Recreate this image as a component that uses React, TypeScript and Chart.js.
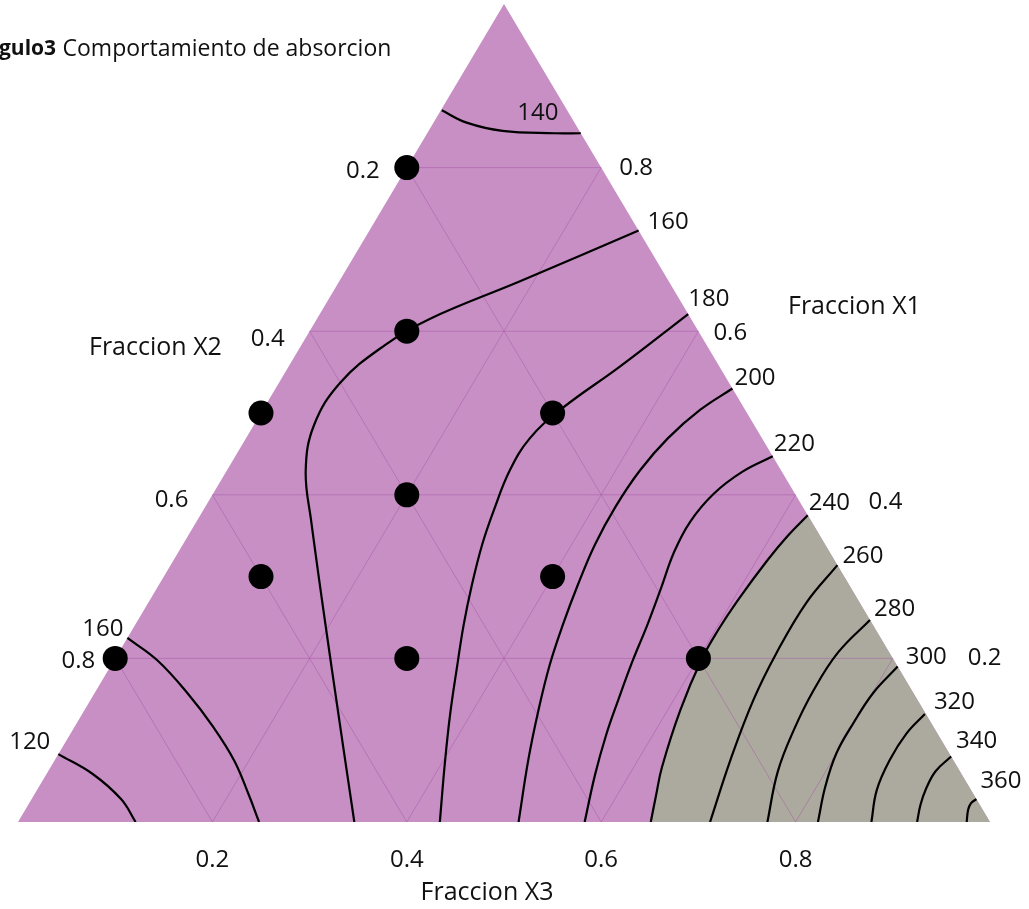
import React, { useEffect, useRef } from 'react';
import { Chart, registerables } from 'chart.js';

Chart.register(...registerables);

// Compositions are stored as [X3, X1]; X2 = 1 - X1 - X3.
type Comp = [number, number];

// Experimental design points
const designPoints: Comp[] = [
  [0.0, 0.8], [0.1, 0.6], [0.0, 0.5], [0.3, 0.5], [0.2, 0.4],
  [0.1, 0.3], [0.4, 0.3], [0.0, 0.2], [0.3, 0.2], [0.6, 0.2],
];

// Iso-response curves of the absorption model
const contour120: Comp[] = [[0.0, 0.083], [0.047, 0.059], [0.092, 0.028], [0.121, 0.0]];
const contour140: Comp[] = [[0.001, 0.87], [0.034, 0.855], [0.076, 0.845], [0.131, 0.842], [0.158, 0.842]];
const contour160a: Comp[] = [
  [0.277, 0.723], [0.186, 0.661], [0.116, 0.615], [0.086, 0.583], [0.063, 0.537], [0.062, 0.485],
  [0.081, 0.43], [0.117, 0.369], [0.23, 0.186], [0.346, 0.0],
];
const contour160b: Comp[] = [
  [0.0, 0.225], [0.044, 0.198], [0.095, 0.158], [0.143, 0.116], [0.185, 0.075], [0.221, 0.033], [0.248, 0.0],
];
const contour180: Comp[] = [
  [0.379, 0.621], [0.341, 0.557], [0.306, 0.504], [0.292, 0.469], [0.291, 0.43], [0.299, 0.381],
  [0.308, 0.339], [0.322, 0.29], [0.338, 0.241], [0.356, 0.192], [0.379, 0.131], [0.404, 0.07], [0.434, 0.0],
];
const contour200: Comp[] = [
  [0.47, 0.53], [0.45, 0.504], [0.434, 0.469], [0.425, 0.43], [0.422, 0.385], [0.424, 0.339],
  [0.431, 0.29], [0.44, 0.241], [0.451, 0.192], [0.467, 0.137], [0.487, 0.076], [0.515, 0.0],
];
const contour220: Comp[] = [
  [0.553, 0.447], [0.531, 0.428], [0.515, 0.401], [0.508, 0.367], [0.51, 0.33], [0.519, 0.284],
  [0.527, 0.241], [0.534, 0.196], [0.543, 0.149], [0.552, 0.106], [0.565, 0.057], [0.583, 0.0],
];
const contour240: Comp[] = [
  [0.625, 0.375], [0.617, 0.35], [0.611, 0.32], [0.605, 0.271], [0.603, 0.235], [0.604, 0.198],
  [0.613, 0.137], [0.629, 0.067], [0.64, 0.033], [0.651, 0.0],
];
const contour260: Comp[] = [[0.686, 0.314], [0.677, 0.268], [0.677, 0.207], [0.682, 0.149], [0.695, 0.076], [0.712, 0.0]];
const contour280: Comp[] = [[0.753, 0.247], [0.74, 0.207], [0.738, 0.161], [0.742, 0.112], [0.751, 0.061], [0.771, 0.0]];
const contour300: Comp[] = [[0.81, 0.19], [0.801, 0.158], [0.799, 0.121], [0.8, 0.084], [0.809, 0.043], [0.823, 0.0]];
const contour320: Comp[] = [[0.867, 0.132], [0.86, 0.108], [0.859, 0.076], [0.864, 0.039], [0.878, 0.0]];
const contour340: Comp[] = [[0.92, 0.08], [0.913, 0.062], [0.914, 0.04], [0.918, 0.021], [0.925, 0.0]];
const contour360: Comp[] = [[0.972, 0.028], [0.969, 0.023], [0.97, 0.015], [0.976, 0.0]];

const contours: { level: number; pts: Comp[] }[] = [
  { level: 120, pts: contour120 },
  { level: 140, pts: contour140 },
  { level: 160, pts: contour160a },
  { level: 160, pts: contour160b },
  { level: 180, pts: contour180 },
  { level: 200, pts: contour200 },
  { level: 220, pts: contour220 },
  { level: 240, pts: contour240 },
  { level: 260, pts: contour260 },
  { level: 280, pts: contour280 },
  { level: 300, pts: contour300 },
  { level: 320, pts: contour320 },
  { level: 340, pts: contour340 },
  { level: 360, pts: contour360 },
];

// Level above which the response region is shaded grey
const highLevel = 240;

const gridTicks = [0.2, 0.4, 0.6, 0.8];
const tickLabels = ['0.2', '0.4', '0.6', '0.8'];
const axisTitles = ['Fraccion X1', 'Fraccion X2', 'Fraccion X3'];
const titleBold = 'Ángulo3';
const titleRest = 'Comportamiento de absorcion';

// Label placement (pixel offsets from each curve's first point)
const contourLabelOffsets: [number, number, CanvasTextAlign][] = [
  [-8, -12, 'right'], [96, 3, 'center'], [9, -8, 'left'], [-4, -9, 'right'],
  [0, -15, 'left'], [2, -10, 'left'], [1, -12, 'left'], [1, -12, 'left'],
  [5, -9, 'left'], [4, -11, 'left'], [8, -9, 'left'], [9, -12, 'left'],
  [5, -15, 'left'], [4, -18, 'left'],
];
const rightTickOffsets: [number, number][] = [[75, 0], [73, 7], [15, 2], [18, 1]];
const leftTickOffsets: [number, number][] = [[-27, 4], [-25, 8], [-24, 5], [-20, 3]];

const PURPLE = '#C78FC4';
const GREY = '#ACAA9F';
const GRID = 'rgba(165, 80, 165, 0.45)';
const FONT = "'Open Sans', sans-serif";

const toXY = ([x3, x1]: Comp) => ({ x: x3 + x1 / 2, y: x1 });

export default function App() {
  const canvasRef = useRef<HTMLCanvasElement | null>(null);

  useEffect(() => {
    const canvas = canvasRef.current;
    if (!canvas) return;

    const datasets: any[] = [];

    gridTicks.forEach((v) => {
      const segs: Comp[][] = [
        [[0, v], [1 - v, v]],
        [[v, 0], [v, 1 - v]],
        [[1 - v, 0], [0, 1 - v]],
      ];
      segs.forEach((s) =>
        datasets.push({
          label: 'grid',
          data: s.map(toXY),
          showLine: true,
          borderColor: GRID,
          borderWidth: 1,
          pointRadius: 0,
          order: 3,
        }),
      );
    });

    contours.forEach((c) =>
      datasets.push({
        label: 'c' + c.level + '_' + datasets.length,
        level: c.level,
        data: c.pts.map(toXY),
        showLine: true,
        borderColor: '#000',
        borderWidth: 2.2,
        tension: 0.4,
        pointRadius: 0,
        order: 2,
      }),
    );
    const highIndex = datasets.findIndex((d) => d.level === highLevel);

    datasets.push({
      label: 'design',
      data: designPoints.map(toXY),
      showLine: false,
      pointRadius: 12.5,
      pointBackgroundColor: '#000',
      pointBorderWidth: 0,
      order: 1,
    });

    const px = (chart: any, c: Comp): [number, number] => {
      const p = toXY(c);
      return [chart.scales.x.getPixelForValue(p.x), chart.scales.y.getPixelForValue(p.y)];
    };

    const backdrop = {
      id: 'ternaryBackdrop',
      beforeDatasetsDraw(chart: any) {
        const ctx = chart.ctx as CanvasRenderingContext2D;
        ctx.save();
        // Simplex region
        const a = px(chart, [0, 0]);
        const b = px(chart, [1, 0]);
        const t = px(chart, [0, 1]);
        ctx.beginPath();
        ctx.moveTo(a[0], a[1]);
        ctx.lineTo(b[0], b[1]);
        ctx.lineTo(t[0], t[1]);
        ctx.closePath();
        ctx.fillStyle = PURPLE;
        ctx.fill();
        // High-response region bounded by the 240 curve
        const line = chart.getDatasetMeta(highIndex).dataset;
        if (line) {
          if (line.updateControlPoints) line.updateControlPoints(chart.chartArea, 'x');
          ctx.beginPath();
          line.path(ctx);
          ctx.lineTo(b[0], b[1]);
          ctx.closePath();
          ctx.fillStyle = GREY;
          ctx.fill();
        }
        ctx.restore();
      },
      afterDraw(chart: any) {
        const ctx = chart.ctx as CanvasRenderingContext2D;
        ctx.save();
        ctx.fillStyle = '#111';
        ctx.textBaseline = 'middle';
        ctx.font = `24px ${FONT}`;

        contours.forEach((c, i) => {
          const p = px(chart, c.pts[0]);
          const [dx, dy, al] = contourLabelOffsets[i];
          ctx.textAlign = al;
          ctx.fillText(String(c.level), p[0] + dx, p[1] + dy);
        });

        gridTicks.forEach((v, i) => {
          // X1 on the right edge
          let p = px(chart, [1 - v, v]);
          ctx.textAlign = 'left';
          ctx.fillText(tickLabels[i], p[0] + rightTickOffsets[i][0], p[1] + rightTickOffsets[i][1]);
          // X2 on the left edge
          p = px(chart, [0, 1 - v]);
          ctx.textAlign = 'right';
          ctx.fillText(tickLabels[i], p[0] + leftTickOffsets[i][0], p[1] + leftTickOffsets[i][1]);
          // X3 along the base
          p = px(chart, [v, 0]);
          ctx.textAlign = 'center';
          ctx.fillText(tickLabels[i], p[0], p[1] + 38);
        });

        ctx.font = `25px ${FONT}`;
        ctx.textAlign = 'left';
        ctx.fillText(axisTitles[0], 788, 307);
        ctx.fillText(axisTitles[1], 89, 348);
        ctx.textAlign = 'center';
        ctx.fillText(axisTitles[2], 487, 893);

        // Title, clipped by the left border
        ctx.textAlign = 'left';
        ctx.font = `bold 21px ${FONT}`;
        const hidden = ctx.measureText('Án').width;
        const x0 = -hidden - 1;
        ctx.fillText(titleBold, x0, 49);
        const wb = ctx.measureText(titleBold + ' ').width;
        ctx.font = `23px ${FONT}`;
        ctx.fillText(titleRest, x0 + wb + 1, 49);
        ctx.restore();
      },
    };

    const chart = new Chart(canvas, {
      type: 'scatter',
      data: { datasets },
      options: {
        animation: false,
        responsive: false,
        devicePixelRatio: 1,
        layout: { autoPadding: false, padding: { left: 18, right: 39, top: 4, bottom: 87 } },
        scales: {
          x: { type: 'linear', min: 0, max: 1, display: false },
          y: { type: 'linear', min: 0, max: 1, display: false },
        },
        plugins: { legend: { display: false }, tooltip: { enabled: false } },
        events: [],
      },
      plugins: [backdrop],
    });

    return () => chart.destroy();
  }, []);

  return (
    <div style={{ position: 'fixed', left: 0, top: 0, width: 1029, height: 909, background: '#fff' }}>
      <canvas ref={canvasRef} width={1029} height={909} style={{ width: 1029, height: 909 }} />
    </div>
  );
}
